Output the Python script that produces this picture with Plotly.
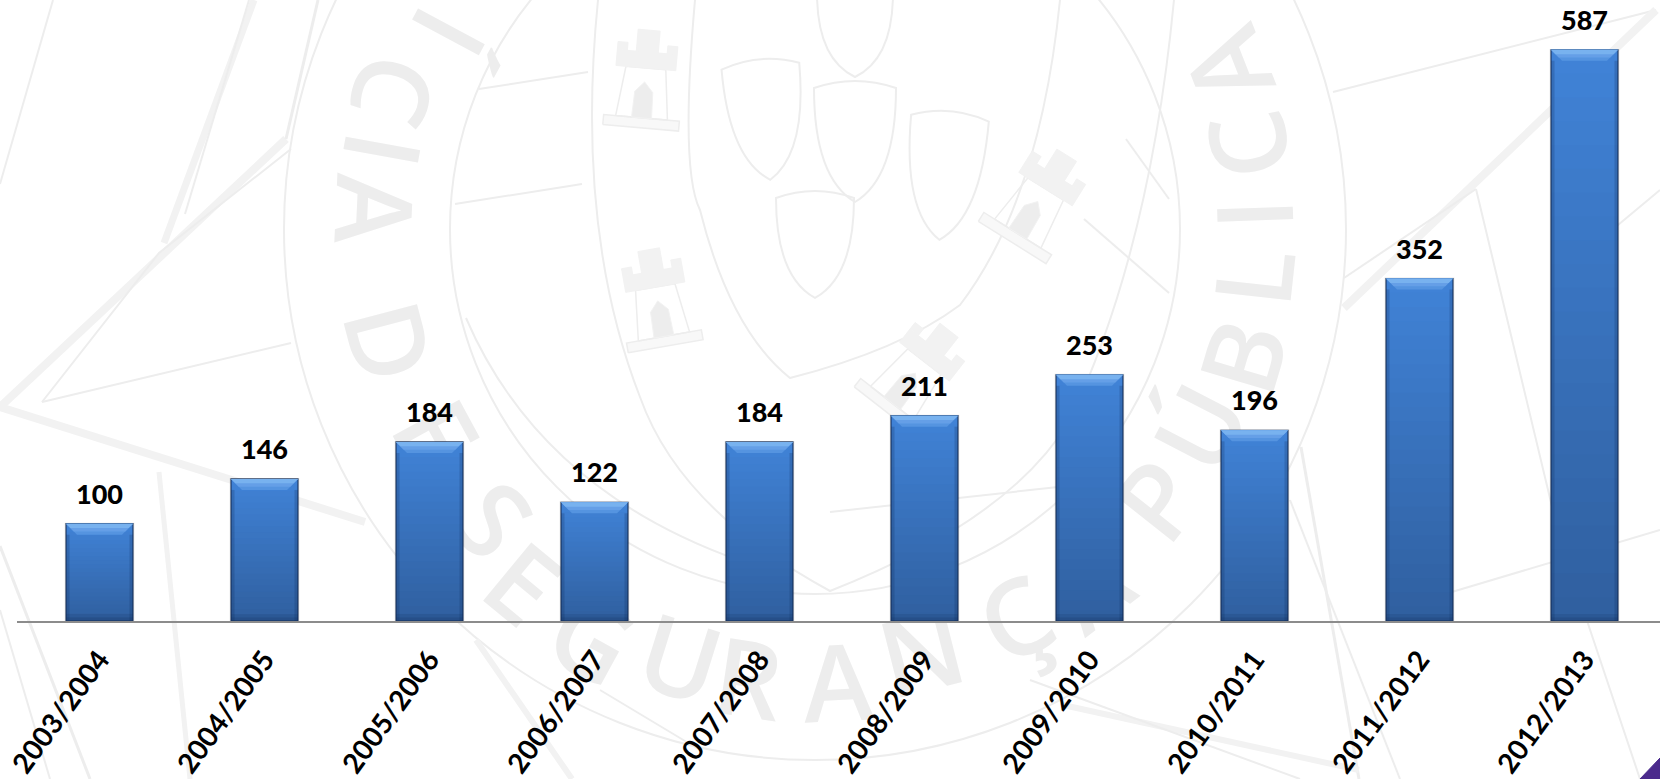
import math
import plotly.graph_objects as go

CATEGORIES = ["2003/2004", "2004/2005", "2005/2006", "2006/2007", "2007/2008",
              "2008/2009", "2009/2010", "2010/2011", "2011/2012", "2012/2013"]
VALUES = [100, 146, 184, 122, 184, 211, 253, 196, 352, 587]

W, H = 1660, 779
AX_L, AX_B = 17, 621
PX_PER_UNIT = 0.973
STEP = 165.0
BAR_W = 67 / STEP
WM = "#ededed"
WM2 = "#f2f2f2"


def px(x): return round(x / W, 5)
def py(y): return round(1 - y / H, 5)


def path(cmds):
    out = []
    for c in cmds:
        letter, pts = c[0], c[1:]
        out.append(letter + " " + " ".join(f"{px(x)},{py(y)}" for x, y in pts))
    return " ".join(out)


shapes = []


def stroke(cmds, color=WM, width=2, fill=None):
    s = dict(type="path", xref="paper", yref="paper", path=path(cmds), layer="below",
             line=dict(color=color, width=width))
    if fill:
        s["fillcolor"] = fill
    shapes.append(s)


def poly(points, **kw):
    stroke([("M", points[0])] + [("L", p) for p in points[1:]], **kw)


# ring of the seal
CX, CY = 815, 229
for R, w in [(531, 2), (365, 2)]:
    shapes.append(dict(type="circle", xref="paper", yref="paper", layer="below",
                       x0=px(CX - R), x1=px(CX + R), y0=py(CY + R), y1=py(CY - R),
                       line=dict(color=WM, width=w)))

# star outline: (points, width)
STAR = [
    ([(0, 407), (286, 139)], 8),
    ([(0, 407), (365, 522)], 8),
    ([(42, 402), (291, 343)], 2),
    ([(42, 402), (159, 253), (291, 149)], 2),
    ([(0, 184), (53, 0)], 2),
    ([(164, 243), (254, 0)], 7),
    ([(185, 214), (249, 0)], 2),
    ([(286, 139), (318, 0)], 3),
    ([(1333, 92), (1656, 10)], 2),
    ([(1656, 10), (1344, 308)], 8),
    ([(1344, 278), (1476, 189)], 2),
    ([(1476, 189), (1560, 540), (1640, 779)], 2),
    ([(1301, 447), (1359, 779)], 3),
    ([(1290, 500), (1400, 779)], 2),
    ([(159, 472), (190, 779)], 5),
    ([(0, 546), (90, 779)], 3),
    ([(0, 610), (50, 779)], 2),
    ([(476, 640), (572, 779)], 6),
    ([(1063, 705), (1359, 770)], 6),
    ([(1030, 680), (1300, 779)], 2),
    ([(1600, 240), (1660, 190)], 2),
    ([(1425, 600), (1660, 530)], 2),
    ([(700, 750), (600, 690)], 2),
]
for pts, w in STAR:
    poly(pts, width=w, color=WM2 if w >= 5 else WM)

# inner spokes
for pts in [[(479, 89), (588, 72)], [(455, 204), (582, 184)],
            [(1126, 139), (1169, 199)], [(1084, 219), (1169, 293)],
            [(830, 512), (1058, 487)]]:
    poly(pts, width=2)

# main shield outline
stroke([("M", (695, 0)), ("Q", (680, 170), (700, 210)), ("Q", (730, 330), (790, 378)),
        ("Q", (900, 350), (960, 305)), ("Q", (1040, 200), (1060, 0))], width=2)
stroke([("M", (598, 0)), ("Q", (575, 230), (640, 397)), ("Q", (680, 510), (830, 591)),
        ("Q", (1010, 520), (1070, 420)), ("Q", (1150, 250), (1174, 0))], width=2)
stroke([("M", (466, 318)), ("Q", (540, 490), (741, 561))], width=2)

# five small shields: (centre x, top y, width, height, rotation in degrees)
SHIELDS = [(855, -15, 76, 92, 0), (765, 58, 78, 122, -5), (855, 80, 82, 122, 0),
           (945, 110, 78, 130, 5), (815, 190, 78, 108, 0)]


def rot(x, y, cx, cy, deg):
    a = math.radians(deg)
    dx, dy = x - cx, y - cy
    return (cx + dx * math.cos(a) - dy * math.sin(a), cy + dx * math.sin(a) + dy * math.cos(a))


for cx, top, w, h, deg in SHIELDS:
    r = lambda x, y: rot(x, y, cx, top + h / 2, deg)
    stroke([("M", r(cx - w / 2, top + 8)), ("Q", r(cx, top - 6), r(cx + w / 2, top + 8)),
            ("Q", r(cx + w / 2, top + h * 0.8), r(cx, top + h)),
            ("Q", r(cx - w / 2, top + h * 0.8), r(cx - w / 2, top + 8)), ("Z",)], width=2)

# castles: (centre x, centre y, scale, rotation)
CASTLES = [(645, 78, 1.0, 5), (657, 297, 1.0, -10), (1040, 198, 1.05, 32), (918, 370, 1.05, 38)]
for cx, cy, s, deg in CASTLES:
    r = lambda x, y: rot(cx + x * s, cy + y * s, cx, cy, deg)
    poly([r(-38, 50), r(38, 50), r(38, 40), r(-38, 40), r(-38, 50)], width=1.5, color=WM, fill="#f8f8f8")
    poly([r(-26, 40), r(26, 40), r(20, -10), r(-20, -10), r(-26, 40)], width=1.5, color=WM)
    poly([r(-30, -10), r(30, -10), r(30, -26), r(-30, -26), r(-30, -10)], width=1, color=WM2, fill=WM2)
    poly([r(-30, -26), r(-30, -34), r(-20, -34), r(-20, -26)], width=1, color=WM2, fill=WM2)
    poly([r(30, -26), r(30, -34), r(20, -34), r(20, -26)], width=1, color=WM2, fill=WM2)
    poly([r(-11, -26), r(11, -26), r(11, -48), r(-11, -48), r(-11, -26)], width=1, color=WM2, fill=WM2)
    poly([r(-10, 40), r(10, 40), r(9, 14), r(0, 4), r(-9, 14), r(-10, 40)], width=1, color=WM2, fill=WM)

# lettering of the seal, real text following the ring
WM_LETTERS = ["Í", "C", "I", "A", "D", "E", "S", "E", "G", "U", "R", "A", "N", "Ç", "A",
              "P", "Ú", "B", "L", "I", "C", "A"]
WM_X = [445, 389, 378, 370, 384, 432, 489, 520, 589, 679, 748, 838, 923, 1018, 1092,
        1161, 1205, 1248, 1259, 1259, 1253, 1232]
WM_Y = [30, 89, 149, 209, 343, 437, 523, 587, 643, 663, 683, 687, 657, 623, 590,
        503, 430, 358, 278, 214, 144, 65]
for ch, x, y in zip(WM_LETTERS, WM_X, WM_Y):
    angle = math.degrees(math.atan2(-(x - CX), y - CY))
    shapes.append(dict(type="rect", xref="paper", yref="paper", layer="below",
                       x0=px(x - 50), x1=px(x + 50), y0=py(y + 50), y1=py(y - 50),
                       line=dict(width=0), fillcolor="rgba(0,0,0,0)",
                       label=dict(text=ch, textposition="middle center", textangle=angle,
                                  font=dict(family="Open Sans", size=106, color=WM, weight=600))))

# purple corner ornament
poly([(1660, 758), (1660, 779), (1640, 779), (1660, 758)], color="#4b2a8c", width=1, fill="#4b2a8c")

# bars: soft shadow, then vertical shading bands, bright bevel on top
xs = list(range(len(VALUES)))
fig = go.Figure()
fig.add_trace(go.Bar(x=xs, y=[v + 1 for v in VALUES], width=BAR_W + 0.016,
                     marker=dict(color="rgba(0,0,0,0.10)", line=dict(width=0)), hoverinfo="skip"))
TOP_RGB, BOT_RGB = (64, 130, 214), (48, 96, 160)
N_BANDS = 24
for k in range(N_BANDS):
    f = 1 - k / N_BANDS
    t = k / (N_BANDS - 1)
    col = "rgb(%d,%d,%d)" % tuple(round(a + (b - a) * t) for a, b in zip(TOP_RGB, BOT_RGB))
    fig.add_trace(go.Bar(x=xs, y=[v * f for v in VALUES], width=BAR_W,
                         marker=dict(color=col, line=dict(width=0)), hoverinfo="skip"))

# bevels, drawn from the same values
BEV = 11 / PX_PER_UNIT
side = 11 / STEP
edge = 3.5 / STEP
for i, v in zip(xs, VALUES):
    l, r = i - BAR_W / 2, i + BAR_W / 2
    for d, c in [(1.0, "#5594e0"), (0.7, "#659fe7"), (0.4, "#78b2ef")]:
        shapes.append(dict(type="path", xref="x", yref="y", layer="above", line=dict(width=0), fillcolor=c,
                           path=f"M {l},{v} L {r},{v} L {r - side * d},{v - BEV * d} L {l + side * d},{v - BEV * d} Z"))
    for a, b in [(l, l + edge), (r - edge, r)]:
        shapes.append(dict(type="path", xref="x", yref="y", layer="above", line=dict(width=0),
                           fillcolor="rgba(15,40,85,0.22)",
                           path=f"M {a},0 L {b},0 L {b},{v - BEV} L {a},{v - BEV} Z"))
    for h_px, alpha in [(7, 0.14), (3.5, 0.18)]:
        shapes.append(dict(type="rect", xref="x", yref="y", layer="above", line=dict(width=0),
                           fillcolor=f"rgba(15,40,85,{alpha})", x0=l, x1=r, y0=0, y1=h_px / PX_PER_UNIT))

# dark outline on top of the bands
fig.add_trace(go.Bar(x=xs, y=VALUES, width=BAR_W, name="",
                     marker=dict(color="rgba(0,0,0,0)", line=dict(color="rgba(20,45,85,0.85)", width=1.2))))

annotations = [dict(x=i, y=v, xref="x", yref="y", text=str(v), showarrow=False, yanchor="bottom", yshift=12,
                    font=dict(family="Lato", size=27, color="#000000", weight=900))
               for i, v in zip(xs, VALUES)]

fig.update_layout(
    width=W, height=H, autosize=False, showlegend=False, barmode="overlay",
    margin=dict(l=0, r=0, t=0, b=0), paper_bgcolor="#ffffff", plot_bgcolor="rgba(0,0,0,0)",
    shapes=shapes, annotations=annotations,
    xaxis=dict(domain=[AX_L / W, 1], range=[-0.5, (W - AX_L) / STEP - 0.5], tickmode="array",
               tickvals=xs, ticktext=CATEGORIES, tickangle=-54, ticks="", showgrid=False, zeroline=False,
               showline=True, linecolor="#8c8c8c", linewidth=2, automargin=False, ticklabelstandoff=9,
               tickfont=dict(family="Lato", size=28, color="#000000", weight="bold")),
    yaxis=dict(domain=[(H - AX_B) / H, 1], range=[0, AX_B / PX_PER_UNIT], visible=False, automargin=False),
)
fig.write_html("out.html", config=dict(displayModeBar=False),
               post_script="document.body.style.margin='0';document.body.style.overflow='hidden';")
